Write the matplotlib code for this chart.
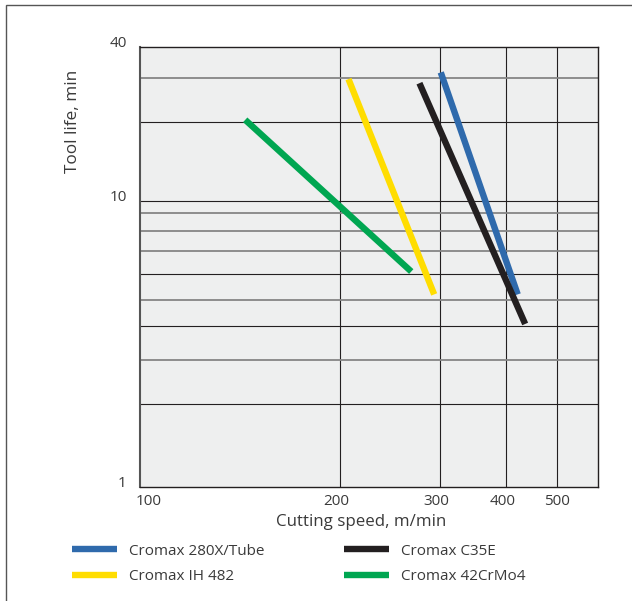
""" tool life vs cutting speed for Cromax grades """
import numpy as np
import matplotlib.pyplot as plt
from matplotlib.patches import Rectangle
from matplotlib.transforms import ScaledTranslation

plt.rcParams["font.family"] = ["Open Sans", "DejaVu Sans"]

# data
series_names = ["Cromax 280X/Tube", "Cromax IH 482", "Cromax C35E", "Cromax 42CrMo4"]
series_colors = ["#2f6aac", "#ffdd00", "#231f20", "#00a651"]
speed_280x = [301, 421]
life_280x = [31.6, 5.2]
speed_ih482 = [207, 293]
life_ih482 = [29.7, 5.2]
speed_c35e = [276, 435]
life_c35e = [28.6, 4.07]
speed_42crmo4 = [144, 267]
life_42crmo4 = [20.4, 6.1]

x_ticks = [100, 200, 300, 400, 500]
y_ticks = [1, 10, 40]
y_grid_dark = [2, 4, 6, 10, 20]
y_grid_gray = [3, 5, 7, 8, 9, 30]

# the printed chart is a hand-drawn log grid; map values to its spacing
x_vals = np.log10([100, 200, 300, 400, 500, 600])
x_pos = np.array([0, 200, 300, 366, 417, 458], dtype=float)
y_vals = np.log10([1, 2, 3, 4, 5, 6, 7, 8, 9, 10, 20, 30, 40])
y_pos = np.array([0, 83, 127, 161, 187, 213, 236, 256, 274, 286, 365, 409, 440], dtype=float)


def x_fwd(v):
    return np.interp(np.log10(np.clip(v, 1e-9, None)), x_vals, x_pos)


def x_inv(p):
    return 10 ** np.interp(p, x_pos, x_vals)


def y_fwd(v):
    return np.interp(np.log10(np.clip(v, 1e-9, None)), y_vals, y_pos)


def y_inv(p):
    return 10 ** np.interp(p, y_pos, y_vals)


fig = plt.figure(figsize=(6.32, 6.01), dpi=100, facecolor="w")
ax = fig.add_axes([140 / 632, 114 / 601, 458 / 632, 440 / 601])
ax.set_facecolor("#eeefef")
ax.set_xscale("function", functions=(x_fwd, x_inv))
ax.set_yscale("function", functions=(y_fwd, y_inv))
ax.set_xlim(100, 600)
ax.set_ylim(1, 40)

# grid
for v in x_ticks[1:]:
    ax.axvline(v, color="#231f20", lw=0.8, zorder=1)
for v in y_grid_dark:
    ax.axhline(v, color="#231f20", lw=0.8, zorder=1)
for v in y_grid_gray:
    ax.axhline(v, color="#858585", lw=1.3, zorder=1)

all_speeds = [speed_280x, speed_ih482, speed_c35e, speed_42crmo4]
all_lives = [life_280x, life_ih482, life_c35e, life_42crmo4]
for name, color, xs, ys in zip(series_names, series_colors, all_speeds, all_lives):
    ax.plot(xs, ys, color=color, lw=4.6, solid_capstyle="butt", label=name, zorder=3)

ax.set_xticks(x_ticks)
ax.set_xticklabels([str(v) for v in x_ticks])
ax.set_yticks(y_ticks)
ax.set_yticklabels([str(v) for v in y_ticks])
ax.xaxis.set_minor_locator(plt.NullLocator())
ax.yaxis.set_minor_locator(plt.NullLocator())
ax.tick_params(length=0, labelsize=11, labelcolor="#3a3a3a")
ax.tick_params(axis="x", pad=5)
ax.tick_params(axis="y", pad=9.5)
for lab in ax.get_yticklabels():
    lab.set_verticalalignment("baseline")
# small horizontal nudges, as in the printed chart
for lab, dx in zip(ax.get_xticklabels(), [9, -4, -4, -3, 0]):
    lab.set_transform(lab.get_transform() + ScaledTranslation(dx / 100, 0, fig.dpi_scale_trans))

for side in ["top", "right", "bottom"]:
    ax.spines[side].set_color("#231f20")
    ax.spines[side].set_linewidth(1.0)
ax.spines["left"].set_color("#555555")
ax.spines["left"].set_linewidth(1.5)

ax.set_xlabel("Cutting speed, m/min", fontsize=12.2, color="#3a3a3a")
ax.xaxis.set_label_coords(0.482, -0.062)
ax.xaxis.label.set_verticalalignment("top")
ax.set_ylabel("Tool life, min", fontsize=12.4, color="#3a3a3a")
ax.yaxis.set_label_coords(-0.128, 0.83)

fig.legend(loc="upper left", bbox_to_anchor=(58 / 632, 1 - 530 / 601), ncol=2,
           frameon=False, fontsize=11, handlelength=2.95, handletextpad=0.8,
           columnspacing=5.2, labelspacing=0.7, labelcolor="#3a3a3a")

# partial frame of the original clipping
fig.add_artist(Rectangle((6 / 632, -0.1), 1.2, 1.1 - 5 / 601, transform=fig.transFigure,
                         fill=False, edgecolor="#555555", lw=1.0))

plt.savefig("out.png", dpi=100)
